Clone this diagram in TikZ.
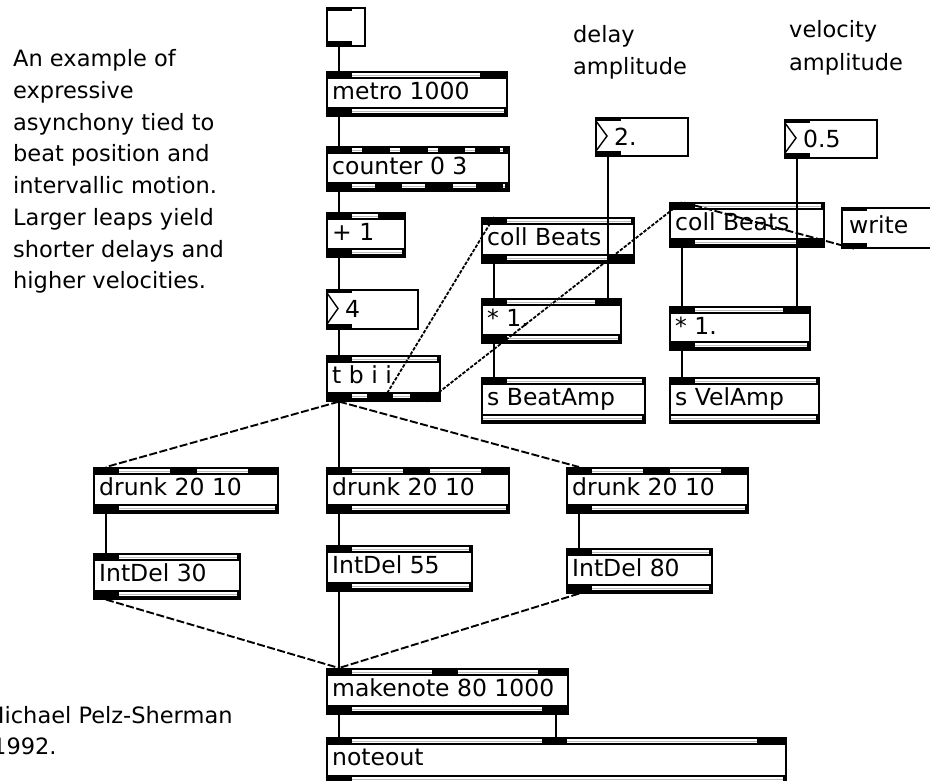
\documentclass[tikz,border=0pt]{standalone}
\usepackage{fontspec}
\newfontfamily\maxfont{DejaVu Sans}
\tikzset{
  objbox/.style={draw, line width=1.6pt, fill=white, inner sep=0pt, anchor=north west, rectangle},
  objtext/.style={anchor=base west, inner sep=0pt, font=\maxfont\fontsize{23.5}{28}\selectfont},
  cmt/.style={anchor=base west, inner sep=0pt, font=\maxfont\fontsize{22.5}{28}\selectfont},
  cord/.style={line width=1.9pt},
  cordlong/.style={line width=1.9pt, dash pattern=on 8pt off 2.5pt},
  cordshort/.style={line width=1.8pt, dash pattern=on 3.5pt off 1.5pt},
  stripe/.style={gray!55, line width=1pt},
  arrowmark/.style={line width=1.4pt},
}
% object box: name, x1, y1, x2, y2, text, top gaps, bottom gaps
\newcommand\maxobj[8]{%
  \node[objbox, minimum width={(#4)-(#2)}, minimum height={(#5)-(#3)}] (#1) at (#2,#3) {};
  \fill (#2,#3) rectangle (#4,#3+8);
  \foreach \ga/\gb in {#7} {\fill[white] (\ga,#3+2) rectangle (\gb,#3+6); \draw[stripe] (\ga,#3+4) -- (\gb,#3+4);}
  \fill (#2,#5-8) rectangle (#4,#5);
  \foreach \ga/\gb in {#8} {\fill[white] (\ga,#5-6) rectangle (\gb,#5-2); \draw[stripe] (\ga,#5-4) -- (\gb,#5-4);}
  \node[objtext] (#1-t) at (#2+6,#3+28.5) {#6};
}
% thin box (number / message / toggle): name, x1, y1, x2, y2
\newcommand\maxthin[5]{%
  \node[objbox, minimum width={(#4)-(#2)}, minimum height={(#5)-(#3)}] (#1) at (#2,#3) {};
  \fill (#2,#3) rectangle (#2+26,#3+4);
  \fill (#2,#5-4) rectangle (#2+26,#5);
}
% number box: name, x1, y1, x2, y2, text
\newcommand\maxnum[6]{%
  \maxthin{#1}{#2}{#3}{#4}{#5}
  \draw[arrowmark] (#2+1,#3+4) -- (#2+12,{(#3+#5)/2}) -- (#2+1,#5-4);
  \node[objtext] (#1-t) at (#2+19,#3+28) {#6};
}
\begin{document}
\begin{tikzpicture}[x=1pt,y=-1pt]
\useasboundingbox (0,0) rectangle (930,780);
\clip (0,0) rectangle (930,780);

% ---------- left column ----------
\maxthin{tog}{326}{7}{364}{45}
\maxobj{metro}{326}{71}{506}{115}{metro 1000}{352/480}{352/504}
\maxobj{counter}{326}{146}{508}{190}{counter 0 3}{352/362, 390/400, 428/438, 465/475, 500/503}{352/375, 402/425, 453/476, 503/505}
\maxobj{plus}{326}{212}{404}{256}{+ 1}{352/378}{352/402}
\maxnum{num4}{326}{289}{417}{328}{4}
\maxobj{tbii}{326}{355}{439}{400}{t b i i}{352/437}{352/367, 393/410}

% ---------- delay branch ----------
\maxnum{num2}{595}{117}{687}{155}{2.}
\maxobj{collL}{481}{217}{633}{262}{coll Beats}{507/631}{507/607}
\maxobj{mulL}{481}{298}{620}{342}{* 1.}{507/595}{507/618}
\maxobj{sBeat}{481}{377}{644}{422}{s BeatAmp}{507/642}{483/642}

% ---------- velocity branch ----------
\maxnum{num05}{784}{119}{876}{157}{0.5}
\maxobj{collR}{669}{202}{823}{246}{coll Beats}{695/821}{695/797}
\maxthin{write}{841}{207}{950}{247}
\node[objtext] (write-t) at (849,233) {write};
\maxobj{mulR}{669}{306}{809}{349}{* 1.}{695/783}{695/807}
\maxobj{sVel}{669}{377}{818}{422}{s VelAmp}{695/816}{671/816}

% ---------- drunk / IntDel ----------
\maxobj{drunkL}{93}{467}{277}{512}{drunk 20 10}{119/170, 197/248}{119/275}
\maxobj{drunkM}{326}{467}{508}{512}{drunk 20 10}{352/403, 430/481}{352/506}
\maxobj{drunkR}{566}{467}{747}{512}{drunk 20 10}{592/643, 670/721}{592/745}
\maxobj{idL}{93}{553}{239}{598}{IntDel 30}{119/237}{119/237}
\maxobj{idM}{326}{545}{471}{590}{IntDel 55}{352/469}{352/469}
\maxobj{idR}{566}{548}{711}{592}{IntDel 80}{592/709}{592/709}

% ---------- output ----------
\maxobj{mk}{326}{668}{567}{713}{makenote 80 1000}{352/432, 458/538}{352/542}
\maxobj{nout}{326}{737}{785}{783}{noteout}{352/542, 567/757}{352/783}

% ---------- named ports ----------
\coordinate (num2-o) at ([xshift=13pt]num2.south west);
\coordinate (num05-o) at ([xshift=13pt]num05.south west);

% ---------- connections ----------
\draw[cord] ([xshift=13pt]tog.south west) -- ([xshift=13pt]metro.north west);
\draw[cord] ([xshift=13pt]metro.south west) -- ([xshift=13pt]counter.north west);
\draw[cord] ([xshift=13pt]counter.south west) -- ([xshift=13pt]plus.north west);
\draw[cord] ([xshift=13pt]plus.south west) -- ([xshift=13pt]num4.north west);
\draw[cord] ([xshift=13pt]num4.south west) -- ([xshift=13pt]tbii.north west);
\draw[cord] ([xshift=13pt]tbii.south west) -- ([xshift=13pt]drunkM.north west);
\draw[cordlong] ([xshift=13pt]tbii.south west) -- ([xshift=13pt]drunkL.north west);
\draw[cordlong] ([xshift=13pt]tbii.south west) -- ([xshift=13pt]drunkR.north west);
\draw[cordshort] ([xshift=56pt]tbii.south west) -- ([xshift=13pt]collL.north west);
\draw[cordshort] ([xshift=101pt]tbii.south west) -- ([xshift=13pt]collR.north west);

\draw[cord] ([xshift=13pt]collL.south west) -- ([xshift=13pt]mulL.north west);
\draw[cord] (num2-o) -- (num2-o |- mulL.north);
\draw[cord] ([xshift=13pt]mulL.south west) -- ([xshift=13pt]sBeat.north west);
\draw[cord] ([xshift=13pt]collR.south west) -- ([xshift=13pt]mulR.north west);
\draw[cord] (num05-o) -- (num05-o |- mulR.north);
\draw[cord] ([xshift=13pt]mulR.south west) -- ([xshift=13pt]sVel.north west);
\draw[cordlong] ([xshift=13pt]write.south west) -- ([xshift=13pt]collR.north west);

\draw[cord] ([xshift=13pt]drunkL.south west) -- ([xshift=13pt]idL.north west);
\draw[cord] ([xshift=13pt]drunkM.south west) -- ([xshift=13pt]idM.north west);
\draw[cord] ([xshift=13pt]drunkR.south west) -- ([xshift=13pt]idR.north west);
\draw[cordlong] ([xshift=13pt]idL.south west) -- ([xshift=13pt]mk.north west);
\draw[cord] ([xshift=13pt]idM.south west) -- ([xshift=13pt]mk.north west);
\draw[cordlong] ([xshift=13pt]idR.south west) -- ([xshift=13pt]mk.north west);
\draw[cord] ([xshift=13pt]mk.south west) -- ([xshift=13pt]nout.north west);
\draw[cord] ([xshift=-12.5pt]mk.south east) -- ([xshift=-12.5pt]mk.south east |- nout.north);

% ---------- comments ----------
\node[cmt] (c1) at (13,66) {An example of};
\node[cmt] (c2) at (13,98) {expressive};
\node[cmt] (c3) at (13,130) {asynchony tied to};
\node[cmt] (c4) at (13,161) {beat position and};
\node[cmt] (c5) at (13,193) {intervallic motion.};
\node[cmt] (c6) at (13,225) {Larger leaps yield};
\node[cmt] (c7) at (13,257) {shorter delays and};
\node[cmt] (c8) at (13,288) {higher velocities.};

\node[cmt] (d1) at (573,42) {delay};
\node[cmt] (d2) at (573,74) {amplitude};
\node[cmt] (v1) at (789,37) {velocity};
\node[cmt] (v2) at (789,70) {amplitude};

\node[cmt] (a1) at (-15,723) {Michael Pelz-Sherman};
\node[cmt] (a2) at (-8,754) {1992.};
\end{tikzpicture}
\end{document}
